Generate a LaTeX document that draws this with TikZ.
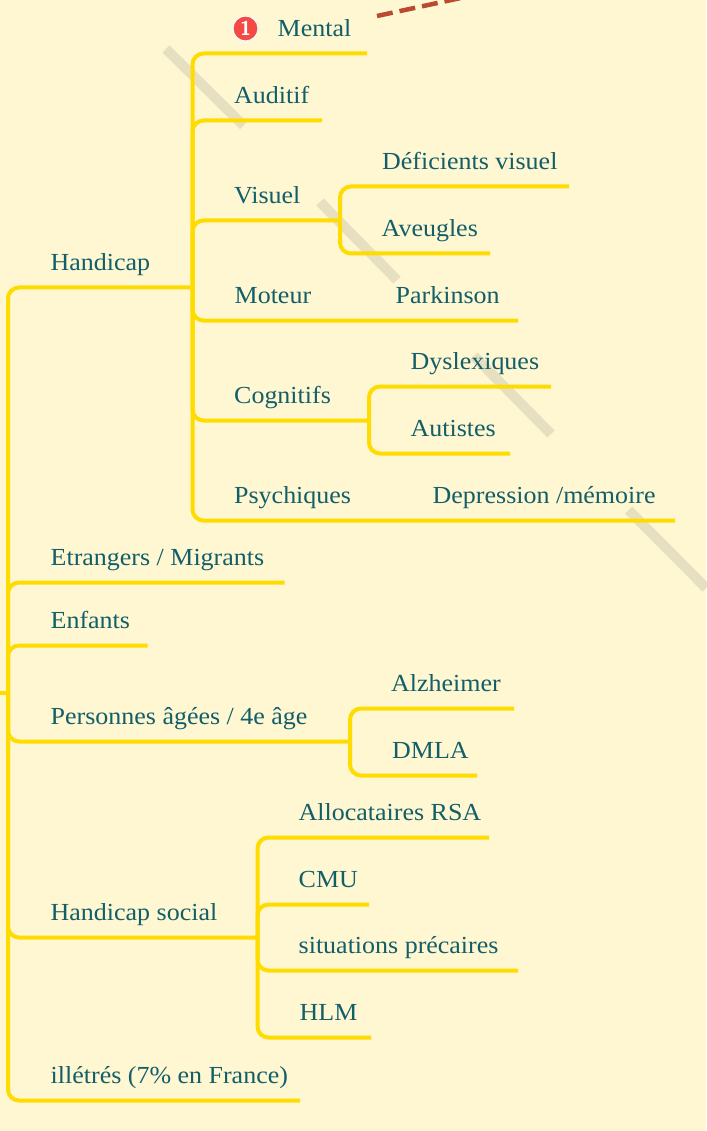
\documentclass[tikz,border=0pt]{standalone}
\usepackage{fontspec}
\setmainfont[FakeStretch=1.06]{Liberation Serif}
\usepackage{xcolor}
\usetikzlibrary{positioning}
\definecolor{paper}{HTML}{FFF6D2}
\definecolor{branchyellow}{HTML}{FFDC00}
\definecolor{labelteal}{HTML}{125F69}
\definecolor{strikegray}{HTML}{E6E0C0}
\definecolor{linkred}{HTML}{B94A2F}
\definecolor{badgered}{HTML}{F44A45}

\begin{document}
\begin{tikzpicture}[
	  x=1pt, y=-1pt,
	  font=\fontsize{24.5}{28}\selectfont,
	  label/.style={anchor=base west, inner sep=0pt, text=labelteal},
	  branch/.style={draw=branchyellow, line width=4pt, rounded corners=11pt},
	  strike/.style={draw=strikegray, line width=10pt},
	  badge/.style={circle, draw=white, line width=1pt, fill=badgered, text=white, minimum size=25pt, inner sep=0pt, font=\fontsize{20}{20}\selectfont\bfseries\sffamily},
	  redlink/.style={draw=linkred, line width=4.5pt, dash pattern=on 16pt off 7pt}
	]
	\useasboundingbox[fill=paper] (0,0) rectangle (706,1131);
	
	% Gray strokes behind the tree
	\coordinate (strikeA) at (166,49);
	\coordinate (strikeB) at (243.5,125.5);
	\coordinate (strikeC) at (320,202);
	\coordinate (strikeD) at (397,280);
	\coordinate (strikeE) at (474,356);
	\coordinate (strikeF) at (551,434);
	\coordinate (strikeG) at (628.5,510);
	\coordinate (strikeH) at (706,588);
	\draw[strike] (strikeA) -- (strikeB);
	\draw[strike] (strikeC) -- (strikeD);
	\draw[strike] (strikeE) -- (strikeF);
	\draw[strike] (strikeG) -- (strikeH);
	
	% Hubs
	\coordinate (rootStub) at (0,692.5);
	\coordinate (rootHub) at (8,692.5);
	\coordinate (handicapHub) at (192.5,287.5);
	\coordinate (visuelHub) at (340,220.5);
	\coordinate (cognitifsHub) at (369,420.5);
	\coordinate (agesHub) at (350,741.5);
	\coordinate (socialHub) at (257.5,937.5);
	
	% Labels
	\node[label] (handicap) at (50.5,270.5) {Handicap};
	\node[badge] (badgeone) at (245.5,28.5) {1};
	\node[label] (mental) at (277.5,36.5) {Mental};
	\node[label] (auditif) at (234,103.5) {Auditif};
	\node[label] (visuel) at (234,203.5) {Visuel};
	\node[label] (deficients) at (382,169.5) {Déficients visuel};
	\node[label] (aveugles) at (381.5,236.5) {Aveugles};
	\node[label] (moteur) at (234.5,303.5) {Moteur};
	\node[label] (parkinson) at (395.5,303.5) {Parkinson};
	\node[label] (cognitifs) at (234,403.5) {Cognitifs};
	\node[label] (dyslexiques) at (410.5,369.5) {Dyslexiques};
	\node[label] (autistes) at (410.5,436.5) {Autistes};
	\node[label] (psychiques) at (234,503.5) {Psychiques};
	\node[label] (depression) at (432.5,503.5) {Depression /mémoire};
	\node[label] (etrangers) at (50.5,565.5) {Etrangers / Migrants};
	\node[label] (enfants) at (50.5,628.5) {Enfants};
	\node[label] (ages) at (50.5,724.5) {Personnes âgées / 4e âge};
	\node[label] (alzheimer) at (391,691.5) {Alzheimer};
	\node[label] (dmla) at (392,758.5) {DMLA};
	\node[label] (social) at (50.5,920.5) {Handicap social};
	\node[label] (allocataires) at (298.5,820.5) {Allocataires RSA};
	\node[label] (cmu) at (298.5,887.5) {CMU};
	\node[label] (precaires) at (298.5,953.5) {situations précaires};
	\node[label] (hlm) at (299.5,1020.5) {HLM};
	\node[label] (illetres) at (50.5,1083.5) {illétrés (7\% en France)};
	
	% Ends of the underlines
	\coordinate (mentalEnd) at (367,53.5);
	\coordinate (auditifEnd) at (322,120.5);
	\coordinate (deficientsEnd) at (569,186.5);
	\coordinate (aveuglesEnd) at (490,253.5);
	\coordinate (moteurEnd) at (518,320.5);
	\coordinate (dyslexiquesEnd) at (551,386.5);
	\coordinate (autistesEnd) at (510,453.5);
	\coordinate (psychiquesEnd) at (675,520.5);
	\coordinate (etrangersEnd) at (284.5,582.5);
	\coordinate (enfantsEnd) at (147.5,645.5);
	\coordinate (alzheimerEnd) at (514,708.5);
	\coordinate (dmlaEnd) at (477,775.5);
	\coordinate (allocatairesEnd) at (489,837.5);
	\coordinate (cmuEnd) at (369,904.5);
	\coordinate (precairesEnd) at (518,970.5);
	\coordinate (hlmEnd) at (371,1037.5);
	\coordinate (illetresEnd) at (300,1100.5);
	
	% Main branches
	\draw[branch] (rootStub) -- (rootHub);
	\draw[branch] (rootHub) |- (handicapHub);
	\draw[branch] (rootHub) |- (etrangersEnd);
	\draw[branch] (rootHub) |- (enfantsEnd);
	\draw[branch] (rootHub) |- (agesHub);
	\draw[branch] (rootHub) |- (socialHub);
	\draw[branch] (rootHub) |- (illetresEnd);
	
	% Handicap
	\draw[branch] (handicapHub) |- (mentalEnd);
	\draw[branch] (handicapHub) |- (auditifEnd);
	\draw[branch] (handicapHub) |- (visuelHub);
	\draw[branch] (handicapHub) |- (moteurEnd);
	\draw[branch] (handicapHub) |- (cognitifsHub);
	\draw[branch] (handicapHub) |- (psychiquesEnd);
	
	\draw[branch] (visuelHub) |- (deficientsEnd);
	\draw[branch] (visuelHub) |- (aveuglesEnd);
	\draw[branch] (cognitifsHub) |- (dyslexiquesEnd);
	\draw[branch] (cognitifsHub) |- (autistesEnd);
	
	% Personnes agees, handicap social
	\draw[branch] (agesHub) |- (alzheimerEnd);
	\draw[branch] (agesHub) |- (dmlaEnd);
	\draw[branch] (socialHub) |- (allocatairesEnd);
	\draw[branch] (socialHub) |- (cmuEnd);
	\draw[branch] (socialHub) |- (precairesEnd);
	\draw[branch] (socialHub) |- (hlmEnd);
	
	% Link leaving the top edge
	\coordinate (linkStart) at (377,16);
	\coordinate (linkTop) at (470,-4);
	\draw[redlink] (linkStart) -- (linkTop);
	
	\end{tikzpicture}
\end{document}
